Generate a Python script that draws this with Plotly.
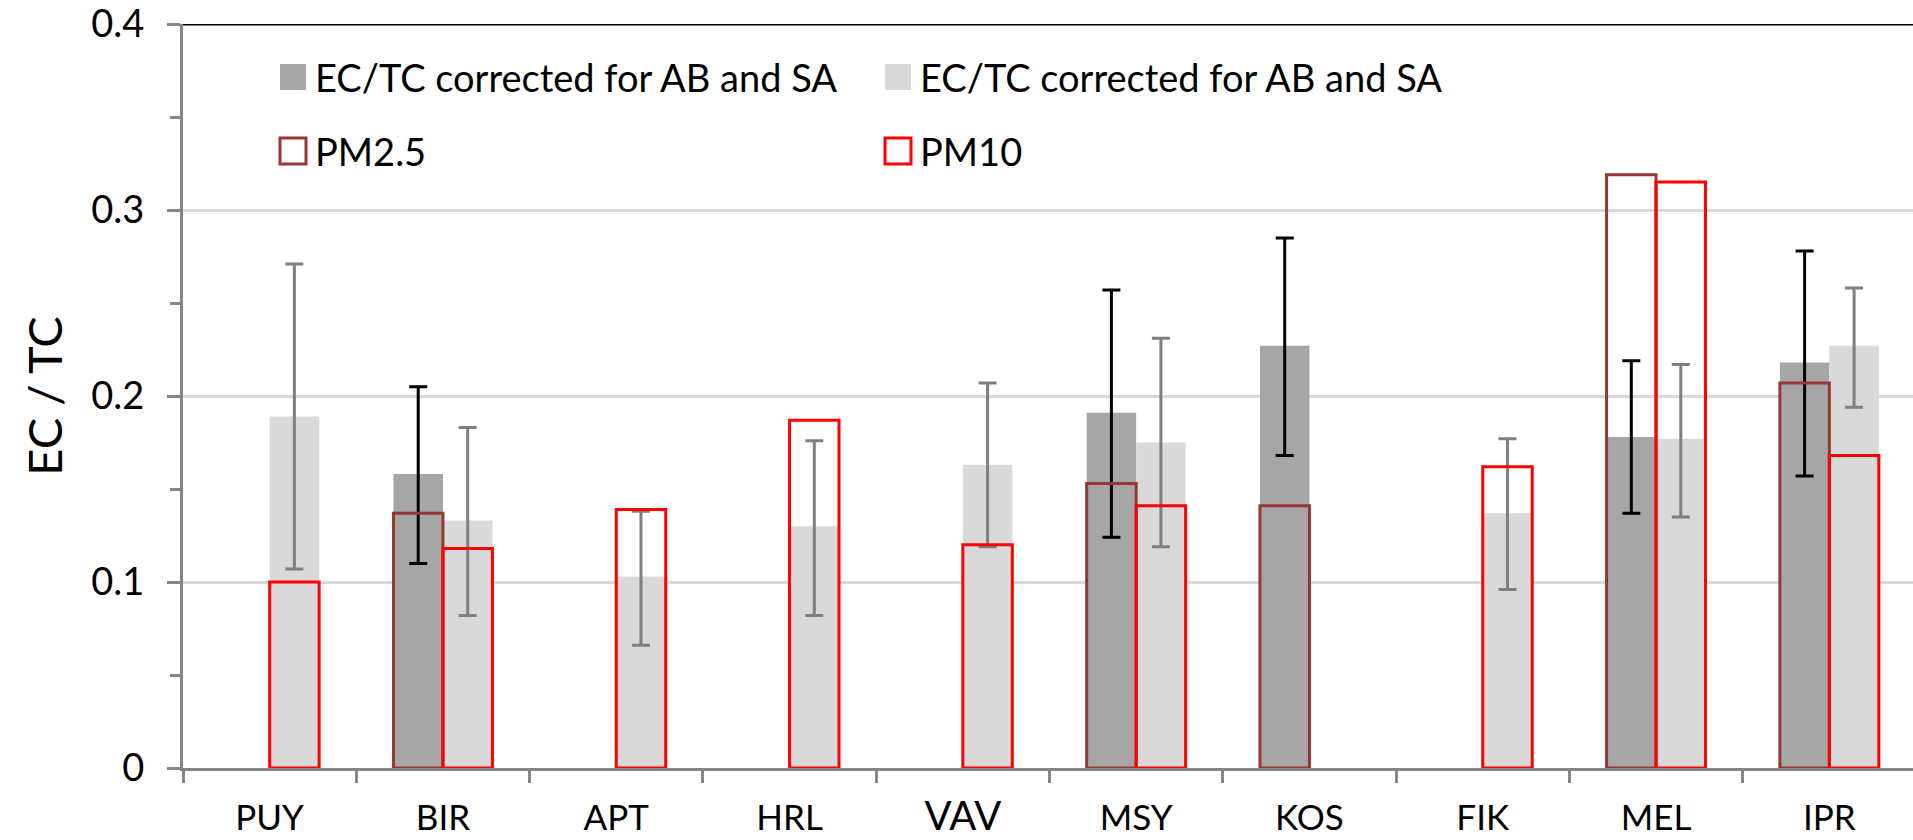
import plotly.graph_objects as go

categories = ["PUY", "BIR", "APT", "HRL", "VAV", "MSY", "KOS", "FIK", "MEL", "IPR"]

# EC/TC corrected for AB and SA (dark grey, PM2.5 filters)
ec_pm25 = [None, 0.158, None, None, None, 0.191, 0.227, None, 0.178, 0.218]
ec_pm25_hi = [None, 0.205, None, None, None, 0.257, 0.285, None, 0.219, 0.278]
ec_pm25_lo = [None, 0.110, None, None, None, 0.124, 0.168, None, 0.137, 0.157]

# EC/TC corrected for AB and SA (light grey, PM10 filters)
ec_pm10 = [0.189, 0.133, 0.103, 0.130, 0.163, 0.175, None, 0.137, 0.177, 0.227]
ec_pm10_hi = [0.271, 0.183, 0.138, 0.176, 0.207, 0.231, None, 0.177, 0.217, 0.258]
ec_pm10_lo = [0.107, 0.082, 0.066, 0.082, 0.119, 0.119, None, 0.096, 0.135, 0.194]

# Outlined bars
pm25 = [None, 0.137, None, None, None, 0.153, 0.141, None, 0.319, 0.207]
pm10 = [0.100, 0.118, 0.139, 0.187, 0.120, 0.141, None, 0.162, 0.315, 0.168]

tick_text = [c if c != "VAV" else "<span style='font-size:40px'>VAV</span>" for c in categories]


def plus(v, hi):
    return [None if a is None else round(h - a, 4) for a, h in zip(v, hi)]


def minus(v, lo):
    return [None if a is None else round(a - l, 4) for a, l in zip(v, lo)]


DARK = "#a6a6a6"
LIGHT = "#d9d9d9"
DRED = "#953735"
RED = "#ff0000"
AXC = "#868686"
FONT = "Lato"

fig = go.Figure()
fig.add_trace(go.Bar(
    x=categories, y=ec_pm25, name="EC/TC corrected for AB and SA",
    offsetgroup="a", marker=dict(color=DARK, line=dict(width=0)),
    error_y=dict(type="data", symmetric=False, array=plus(ec_pm25, ec_pm25_hi),
                 arrayminus=minus(ec_pm25, ec_pm25_lo), color="#000000",
                 thickness=3, width=9),
    showlegend=False))
fig.add_trace(go.Bar(
    x=categories, y=ec_pm10, name="EC/TC corrected for AB and SA",
    offsetgroup="b", marker=dict(color=LIGHT, line=dict(width=0)),
    error_y=dict(type="data", symmetric=False, array=plus(ec_pm10, ec_pm10_hi),
                 arrayminus=minus(ec_pm10, ec_pm10_lo), color="#7f7f7f",
                 thickness=3, width=9),
    showlegend=False))
fig.add_trace(go.Bar(
    x=categories, y=pm25, name="PM2.5", offsetgroup="a",
    marker=dict(color="rgba(0,0,0,0)", line=dict(color=DRED, width=3)),
    showlegend=False))
fig.add_trace(go.Bar(
    x=categories, y=pm10, name="PM10", offsetgroup="b",
    marker=dict(color="rgba(0,0,0,0)", line=dict(color=RED, width=3)),
    showlegend=False))

W, H = 1913, 840
ML, MT, MB = 183, 24, 72
PW = W - ML
PH = H - MT - MB
cat_w = 173.3
x_hi = -0.5 + PW / cat_w


def px_x(px):
    return (px - ML) / PW


def px_y(py):
    return (H - MB - py) / PH


# manual legend (keys + labels)
legend_items = [
    (280, 64, "EC/TC corrected for AB and SA", dict(fillcolor=DARK, line=dict(width=0))),
    (885, 64, "EC/TC corrected for AB and SA", dict(fillcolor=LIGHT, line=dict(width=0))),
    (280, 138, "PM2.5", dict(fillcolor="white", line=dict(color=DRED, width=3))),
    (885, 138, "PM10", dict(fillcolor="white", line=dict(color=RED, width=3))),
]
shapes = [dict(type="line", xref="paper", yref="y", x0=0, x1=1, y0=0.4, y1=0.4,
               line=dict(color="black", width=3), layer="above")]
annotations = []
for lx, ly, txt, sty in legend_items:
    shapes.append(dict(type="rect", xref="paper", yref="paper",
                       x0=px_x(lx), x1=px_x(lx + 26), y0=px_y(ly + 26), y1=px_y(ly),
                       layer="above", **sty))
    annotations.append(dict(text=txt, xref="paper", yref="paper", x=px_x(lx + 33),
                            y=px_y(ly + 13), xanchor="left", yanchor="middle",
                            showarrow=False, font=dict(family=FONT, size=38, color="black")))

fig.update_layout(
    width=W, height=H,
    margin=dict(l=ML, r=0, t=MT, b=MB, pad=0),
    paper_bgcolor="white", plot_bgcolor="white",
    barmode="group", bargap=0.429, bargroupgap=0,
    font=dict(family=FONT, color="black"),
    shapes=shapes, annotations=annotations,
    showlegend=False,
)
fig.update_xaxes(
    type="category", categoryorder="array", categoryarray=categories,
    tickvals=categories, ticktext=tick_text,
    range=[-0.5, x_hi], tickson="boundaries",
    ticks="outside", ticklen=12, tickwidth=3, tickcolor=AXC,
    showline=True, linecolor=AXC, linewidth=3,
    showgrid=False, zeroline=False,
    tickfont=dict(family=FONT, size=35, color="black"),
    ticklabelstandoff=17,
    automargin=False,
)
fig.update_yaxes(
    range=[0, 0.4], dtick=0.1, tick0=0,
    ticks="outside", ticklen=13, tickwidth=3, tickcolor=AXC,
    minor=dict(dtick=0.05, ticks="outside", ticklen=10, tickwidth=3,
               tickcolor=AXC, showgrid=False),
    showline=True, linecolor=AXC, linewidth=3,
    showgrid=True, gridcolor=LIGHT, gridwidth=3,
    zeroline=False,
    tickfont=dict(family=FONT, size=38, color="black"),
    ticklabelstandoff=15, ticklabeloverflow="allow",
    title=dict(text="EC / TC", font=dict(family=FONT, size=47, color="black"), standoff=14),
    automargin=False,
)

fig.write_html("out.html")
